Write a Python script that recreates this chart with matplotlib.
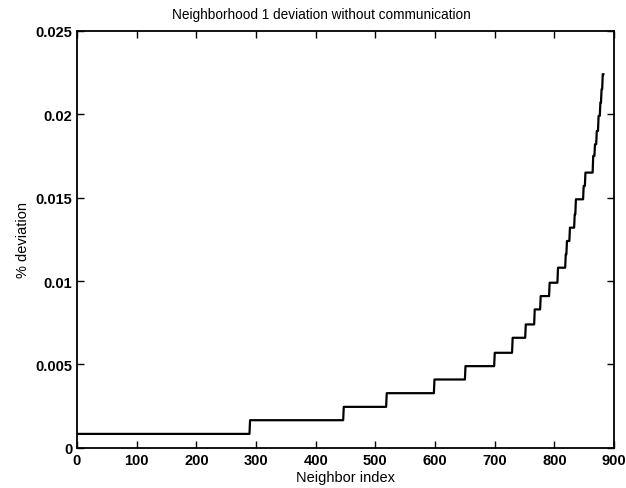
import matplotlib
matplotlib.use('Agg')
import matplotlib.pyplot as plt
from matplotlib.ticker import FuncFormatter
import numpy as np

# neighbor index where each deviation level starts, and the level itself
step_start = [0, 290, 447, 519, 599, 651, 700, 730, 752, 767, 777, 792, 806,
              819, 821, 826, 834, 836, 849, 852, 865, 868, 871, 874, 877, 879, 881]
step_level = [0.00084, 0.00166, 0.00246, 0.00328, 0.0041, 0.0049, 0.0057,
              0.0066, 0.0074, 0.0083, 0.0091, 0.0099, 0.0108, 0.0116, 0.0124,
              0.0132, 0.0140, 0.0149, 0.0157, 0.0165, 0.0175, 0.0182, 0.0190,
              0.0199, 0.0207, 0.0215, 0.0224]
n_total = 883

xticks = [0, 100, 200, 300, 400, 500, 600, 700, 800, 900]
yticks = [0, 0.005, 0.01, 0.015, 0.02, 0.025]

plt.rcParams['font.family'] = ['Liberation Sans', 'DejaVu Sans']

lengths = np.diff(step_start + [n_total])
dev = np.repeat(step_level, lengths)
idx = np.arange(len(dev))

fig = plt.figure(figsize=(6.26, 4.89), dpi=100)
ax = fig.add_axes([0.123, 0.082, 0.858, 0.853])
ax.plot(idx, dev, color='black', lw=1.6)

ax.set_xlim(0, 900)
ax.set_ylim(0, 0.025)
ax.set_xticks(xticks)
ax.set_yticks(yticks)
ax.yaxis.set_major_formatter(FuncFormatter(lambda v, p: '%g' % v))
ax.tick_params(direction='in', top=True, right=True, length=5, width=1,
               labelsize=10.5)
for lab in ax.get_xticklabels() + ax.get_yticklabels():
    lab.set_fontweight('bold')
for s in ax.spines.values():
    s.set_linewidth(1.3)

ax.set_title('Neighborhood 1 deviation without communication', fontsize=9.8,
             pad=9, x=0.455)
ax.set_xlabel('Neighbor index', fontsize=10.5, labelpad=2)
ax.set_ylabel('% deviation', fontsize=10.5, labelpad=4)

fig.savefig('out.png', dpi=100)
